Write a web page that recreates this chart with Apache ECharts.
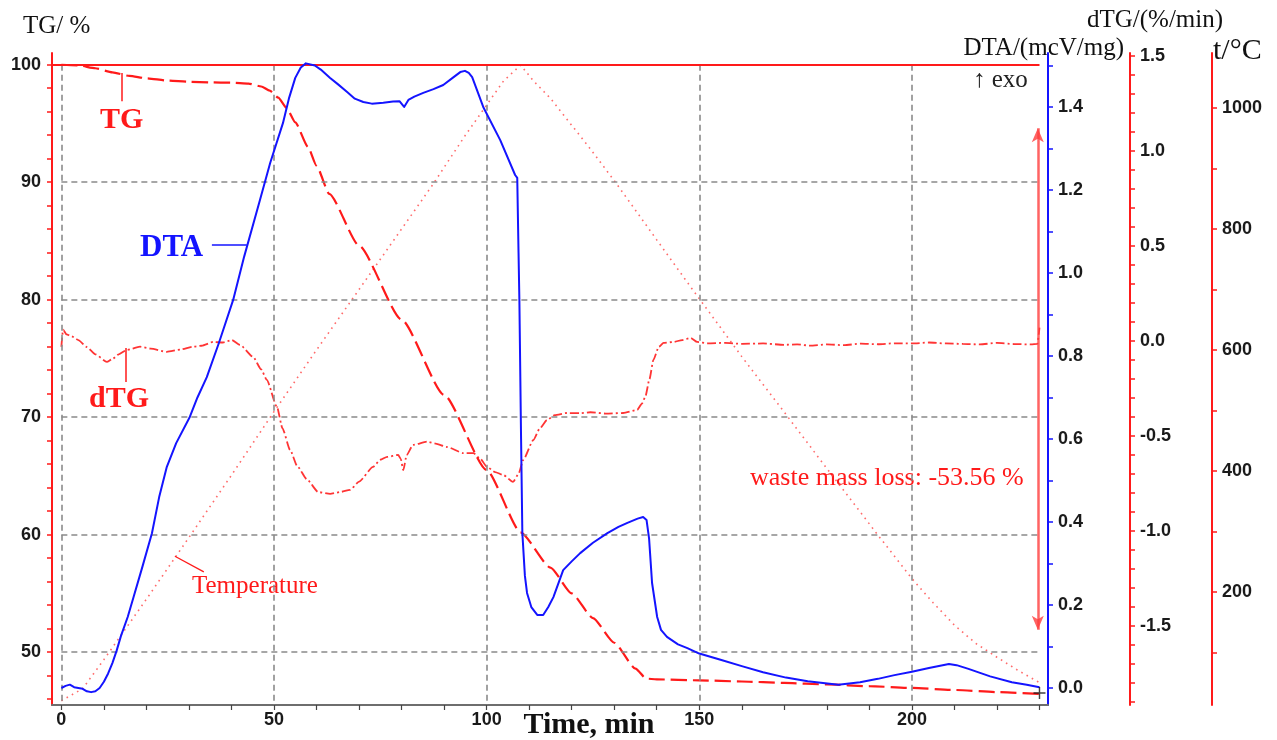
<!DOCTYPE html>
<html>
<head>
<meta charset="utf-8">
<script src="https://cdn.jsdelivr.net/npm/echarts@6/dist/echarts.min.js"></script>
<style>
  html, body { margin: 0; padding: 0; background: #fff; }
  #chart { width: 1277px; height: 740px; }
</style>
</head>
<body>
<div id="chart"></div>
<script>
// ---- Thermal analysis run: TG, dTG, DTA and furnace temperature vs time ----

// TG, mass %
const tgTime = [0,4,8,12,16,20,25,30,35,40,44,47,49,51,53,55,58,60,63,70,80,90,100,108,115,120,125,130,135,137.5,140,150,160,170,180,190,200,210,220,230];
const tgVal  = [100,99.95,99.7,99.35,99.05,98.85,98.65,98.55,98.5,98.47,98.4,98.15,97.8,97.2,96.3,95.1,93.0,91.4,89.0,84.6,78.3,71.9,65.5,60.2,57.2,55.0,52.9,50.8,48.6,47.75,47.68,47.6,47.5,47.38,47.25,47.1,46.95,46.78,46.6,46.44];

// DTA, mcV/mg
const dtaTime = [0,1,2,3,4,5,6,7,8,9,10,11,12,13,14,15.6,17,19,21.3,23,24.8,27,30.2,32,34.2,37,40.4,43,46.7,49.1,52.1,53.5,55,56.3,57.5,59.6,61,63.2,65,67.2,69,71,73,75.7,78,79.5,80.6,81.6,83,85.1,87.5,89.8,92,93.8,94.9,95.8,96.6,99.2,103.2,106.7,107.2,107.5,107.7,108.1,108.4,109,109.5,110.5,111.9,113.3,114.5,115.7,118,120,122,125,128.4,131,133.1,135.5,136.8,137.6,138.2,138.9,140.1,141,142.4,145,147.2,150,155,160.2,165,170.4,175.5,182.7,187.8,192,195.9,200,204,208.7,210.5,213.3,218.4,223.5,227,230];
const dtaVal  = [0.0,0.005,0.008,0.002,0.0,-0.002,-0.008,-0.01,-0.008,0.0,0.015,0.035,0.06,0.09,0.125,0.171,0.22,0.29,0.373,0.46,0.533,0.59,0.653,0.70,0.749,0.83,0.935,1.04,1.176,1.265,1.361,1.42,1.47,1.495,1.505,1.50,1.49,1.47,1.455,1.436,1.42,1.412,1.408,1.41,1.413,1.414,1.40,1.417,1.425,1.434,1.443,1.453,1.47,1.484,1.487,1.482,1.472,1.40,1.32,1.236,1.229,1.05,0.935,0.6,0.373,0.27,0.229,0.195,0.176,0.176,0.195,0.219,0.284,0.305,0.325,0.35,0.373,0.388,0.398,0.408,0.412,0.405,0.36,0.253,0.171,0.14,0.123,0.105,0.096,0.083,0.068,0.052,0.038,0.025,0.016,0.008,0.014,0.022,0.031,0.039,0.048,0.058,0.055,0.046,0.028,0.014,0.008,0.002];

// dTG, %/min
const dtgTime = [0,0.4,1.2,2.4,4,6,8,10.7,12,13.5,15.4,18.5,21,24.8,28,31,33,35.7,38,40.1,42,45.1,47,48.3,50.7,52,53.8,55.5,57.8,60.4,63.2,65.5,67.9,70,73.3,75,76.6,79.2,79.8,80.4,81.2,82.7,86,88,90.7,94.5,96.9,98.5,100.1,102,103.9,106.2,107.5,108.6,111,112.5,114.2,116,118.9,122,124.4,128,132.1,135.4,136.5,137.3,138.3,139.2,140.5,141.6,143.9,146,148,149.5,152,156,160,165,170,173,176,180,184,188,192,196,200,204,208,212,216,220,224,228,229.5,230];
const dtgVal  = [-0.03,0.06,0.035,0.025,0.005,-0.032,-0.07,-0.11,-0.095,-0.07,-0.047,-0.03,-0.04,-0.057,-0.045,-0.03,-0.025,-0.005,-0.008,0.005,-0.02,-0.084,-0.15,-0.205,-0.347,-0.46,-0.574,-0.66,-0.73,-0.795,-0.805,-0.795,-0.784,-0.74,-0.663,-0.625,-0.61,-0.6,-0.62,-0.68,-0.6,-0.547,-0.53,-0.54,-0.558,-0.59,-0.59,-0.62,-0.663,-0.69,-0.705,-0.742,-0.7,-0.626,-0.521,-0.46,-0.416,-0.39,-0.379,-0.38,-0.375,-0.382,-0.379,-0.363,-0.33,-0.295,-0.2,-0.1,-0.03,-0.01,-0.005,0.005,0.016,-0.005,-0.012,-0.01,-0.015,-0.013,-0.02,-0.018,-0.024,-0.018,-0.022,-0.014,-0.017,-0.012,-0.013,-0.008,-0.013,-0.015,-0.018,-0.01,-0.016,-0.018,-0.015,0.07];

// Furnace temperature, °C
const tempTime = [0,5,10,15,20,30,40,50,60,70,80,87,95,100,104,108,111,115,124,130,140,148,160,170,180,192,200,205,210,215,220,225,230];
const tempVal  = [20,40,88,138,188,290,393,498,600,700,800,870,955,1005,1045,1071,1045,1016,936,880,782,704,589,497,404,294,222,182,145,115,92,70,50];

// Axis tick labels
const timeLabels = [0,50,100,150,200];
const tgLabels   = [50,60,70,80,90,100];
const dtaLabels  = [0.0,0.2,0.4,0.6,0.8,1.0,1.2,1.4];
const dtgLabels  = [-1.5,-1.0,-0.5,0.0,0.5,1.0,1.5];
const tempLabels = [200,400,600,800,1000];

// Total mass loss over the run
const massLoss = -53.56;

// Axis ranges
const timeMin = -2.2, timeMax = 232, timeEnd = 230;
const tgMin = 45.5, tgMax = 101.0;
const dtaMin = -0.041, dtaMax = 1.53;
const dtgMin = -1.916, dtgMax = 1.516;
const tempMin = 13, tempMax = 1091;

function steps(from, to, step) {
  const out = [];
  for (let v = from; v <= to + 1e-9; v += step) out.push(Math.round(v * 1000) / 1000);
  return out;
}
function pairs(xs, ys) { return xs.map((x, i) => [x, ys[i]]); }

const RED = '#ff1a1a';
const BLUE = '#1414ff';
const SERIF = '"Liberation Serif", "DejaVu Serif", serif';
const tickFont = { fontFamily: '"Liberation Sans", Arial, sans-serif', fontWeight: 'bold', fontSize: 18, color: '#1a1a1a' };

function yAxisCfg(o) {
  return {
    type: 'value',
    position: o.position,
    offset: o.offset || 0,
    min: o.min, max: o.max,
    axisLine: { show: true, onZero: false, lineStyle: { color: o.color, width: 2 } },
    axisTick: { show: true, length: 5, customValues: o.ticks, lineStyle: { color: o.color, width: 1.5 } },
    axisLabel: Object.assign({ customValues: o.labels, margin: o.margin || 10, formatter: o.fmt }, tickFont),
    splitLine: { show: false }
  };
}

const chart = echarts.init(document.getElementById('chart'), null, { renderer: 'canvas' });

const gridLines = [];
tgLabels.filter(v => v < 100).forEach(v => gridLines.push([{ coord: [0, v] }, { coord: [timeEnd, v] }]));
timeLabels.forEach(v => gridLines.push([{ coord: [v, 100] }, { coord: [v, tgMin] }]));

const option = {
  animation: false,
  backgroundColor: '#fff',
  grid: { left: 52, right: 229, top: 53, bottom: 35, containLabel: false, outerBoundsMode: 'none' },
  xAxis: {
    type: 'value', min: timeMin, max: timeMax,
    axisLine: { show: true, onZero: false, lineStyle: { color: '#6e6e6e', width: 2 } },
    axisTick: { show: true, length: 5, customValues: steps(0, 230, 10), lineStyle: { color: '#444', width: 1.2 } },
    axisLabel: Object.assign({ customValues: timeLabels, margin: 6 }, tickFont),
    splitLine: { show: false }
  },
  yAxis: [
    yAxisCfg({ position: 'left', min: tgMin, max: tgMax, color: RED, ticks: steps(46, 100, 2), labels: tgLabels, margin: 11, fmt: v => String(Math.round(v)) }),
    yAxisCfg({ position: 'right', min: dtaMin, max: dtaMax, color: BLUE, ticks: steps(0, 1.5, 0.1), labels: dtaLabels, fmt: v => v.toFixed(1) }),
    yAxisCfg({ position: 'right', offset: 82, min: dtgMin, max: dtgMax, color: RED, ticks: steps(-1.9, 1.5, 0.1), labels: dtgLabels, fmt: v => v.toFixed(1) }),
    yAxisCfg({ position: 'right', offset: 164, min: tempMin, max: tempMax, color: RED, ticks: steps(100, 1000, 100), labels: tempLabels, fmt: v => String(Math.round(v)) })
  ],
  series: [
    {
      name: 'grid', type: 'line', xAxisIndex: 0, yAxisIndex: 0, data: [], z: 1, silent: true,
      markLine: {
        silent: true, symbol: 'none', animation: false, label: { show: false },
        lineStyle: { color: '#8a8a8a', type: [6, 4], width: 1.6 },
        emphasis: { disabled: true },
        data: gridLines
      }
    },
    {
      name: 'Temperature', type: 'line', yAxisIndex: 3, z: 2,
      data: pairs(tempTime, tempVal), showSymbol: false, symbol: 'none',
      lineStyle: { color: 'rgba(255,70,70,0.8)', width: 1.6, type: [1.6, 4.4] }
    },
    {
      name: 'TG', type: 'line', yAxisIndex: 0, z: 4,
      data: pairs(tgTime, tgVal), showSymbol: false, symbol: 'none', smooth: 0.2, smoothMonotone: 'x',
      lineStyle: { color: RED, width: 2.2, type: [16, 6] },
      markLine: {
        silent: true, symbol: 'none', animation: false, label: { show: false },
        emphasis: { disabled: true },
        data: [
          [{ coord: [timeMin, 100], lineStyle: { color: RED, width: 2, type: 'solid' } }, { coord: [timeEnd, 100] }],
          [{ coord: [14.3, 99.3], lineStyle: { color: RED, width: 1.5, type: 'solid' } }, { coord: [14.3, 96.9] }],
          [{ coord: [229.6, 94.6], symbol: 'arrow', symbolSize: [9, 14], lineStyle: { color: 'rgba(255,60,60,0.8)', width: 2.5, type: 'solid' } },
           { coord: [229.6, 51.9], symbol: 'arrow', symbolSize: [9, 14] }]
        ]
      }
    },
    {
      name: 'dTG', type: 'line', yAxisIndex: 2, z: 3,
      data: pairs(dtgTime, dtgVal), showSymbol: false, symbol: 'none', smooth: 0.2, smoothMonotone: 'x',
      lineStyle: { color: 'rgba(255,30,30,0.9)', width: 1.8, type: [9, 3, 2, 3] },
      markLine: {
        silent: true, symbol: 'none', animation: false, label: { show: false },
        emphasis: { disabled: true },
        data: [
          [{ coord: [15.2, -0.037], lineStyle: { color: RED, width: 1.5, type: 'solid' } }, { coord: [15.2, -0.216] }]
        ]
      }
    },
    {
      name: 'DTA', type: 'line', yAxisIndex: 1, z: 5,
      data: pairs(dtaTime, dtaVal), showSymbol: false, symbol: 'none', smooth: false,
      lineStyle: { color: BLUE, width: 2, join: 'round' },
      markLine: {
        silent: true, symbol: 'none', animation: false, label: { show: false },
        emphasis: { disabled: true },
        data: [
          [{ coord: [35.4, 1.067], lineStyle: { color: BLUE, width: 1.5, type: 'solid' } }, { coord: [43.6, 1.067] }]
        ]
      }
    },
    {
      name: 'TemperaturePointer', type: 'line', yAxisIndex: 3, z: 3, data: [], silent: true,
      markLine: {
        silent: true, symbol: 'none', animation: false, label: { show: false },
        emphasis: { disabled: true },
        data: [
          [{ coord: [26.7, 259], lineStyle: { color: RED, width: 1.3, type: 'solid' } }, { coord: [33.5, 233] }]
        ]
      }
    },
    {
      name: 'end', type: 'scatter', yAxisIndex: 1, z: 6, silent: true,
      data: [[timeEnd, -0.012]],
      symbol: 'path://M0,4.4h10v1.2h-10z M4.4,0h1.2v10h-1.2z', symbolSize: 12,
      itemStyle: { color: '#111' }
    }
  ],
  graphic: [
    { type: 'text', silent: true, style: { text: 'TG/ %', x: 23, y: 26, textVerticalAlign: 'middle', font: '25px ' + SERIF, fill: '#111' } },
    { type: 'text', silent: true, style: { text: 'dTG/(%/min)', x: 1087, y: 20, textVerticalAlign: 'middle', font: '25px ' + SERIF, fill: '#111' } },
    { type: 'text', silent: true, style: { text: 'DTA/(mcV/mg)', x: 1124, y: 48, textAlign: 'right', textVerticalAlign: 'middle', font: '25px ' + SERIF, fill: '#111' } },
    { type: 'text', silent: true, style: { text: 't/°C', x: 1213, y: 51, textVerticalAlign: 'middle', font: '30px ' + SERIF, fill: '#111' } },
    { type: 'text', silent: true, style: { text: '↑ exo', x: 973, y: 80, textVerticalAlign: 'middle', font: '25px ' + SERIF, fill: '#222' } },
    { type: 'text', silent: true, style: { text: 'TG', x: 100, y: 120, textVerticalAlign: 'middle', font: 'bold 30px ' + SERIF, fill: RED } },
    { type: 'text', silent: true, style: { text: 'dTG', x: 89, y: 399, textVerticalAlign: 'middle', font: 'bold 30px ' + SERIF, fill: RED } },
    { type: 'text', silent: true, style: { text: 'DTA', x: 140, y: 248, textVerticalAlign: 'middle', font: 'bold 31px ' + SERIF, fill: BLUE } },
    { type: 'text', silent: true, style: { text: 'Temperature', x: 192, y: 586, textVerticalAlign: 'middle', font: '25px ' + SERIF, fill: RED } },
    { type: 'text', silent: true, style: { text: 'waste mass loss: ' + massLoss.toFixed(2) + ' %', x: 750, y: 478, textVerticalAlign: 'middle', font: '26px ' + SERIF, fill: RED } },
    { type: 'text', silent: true, style: { text: 'Time, min', x: 589, y: 725, textAlign: 'center', textVerticalAlign: 'middle', font: 'bold 30px ' + SERIF, fill: '#111' } }
  ]
};

chart.setOption(option);
</script>
</body>
</html>
